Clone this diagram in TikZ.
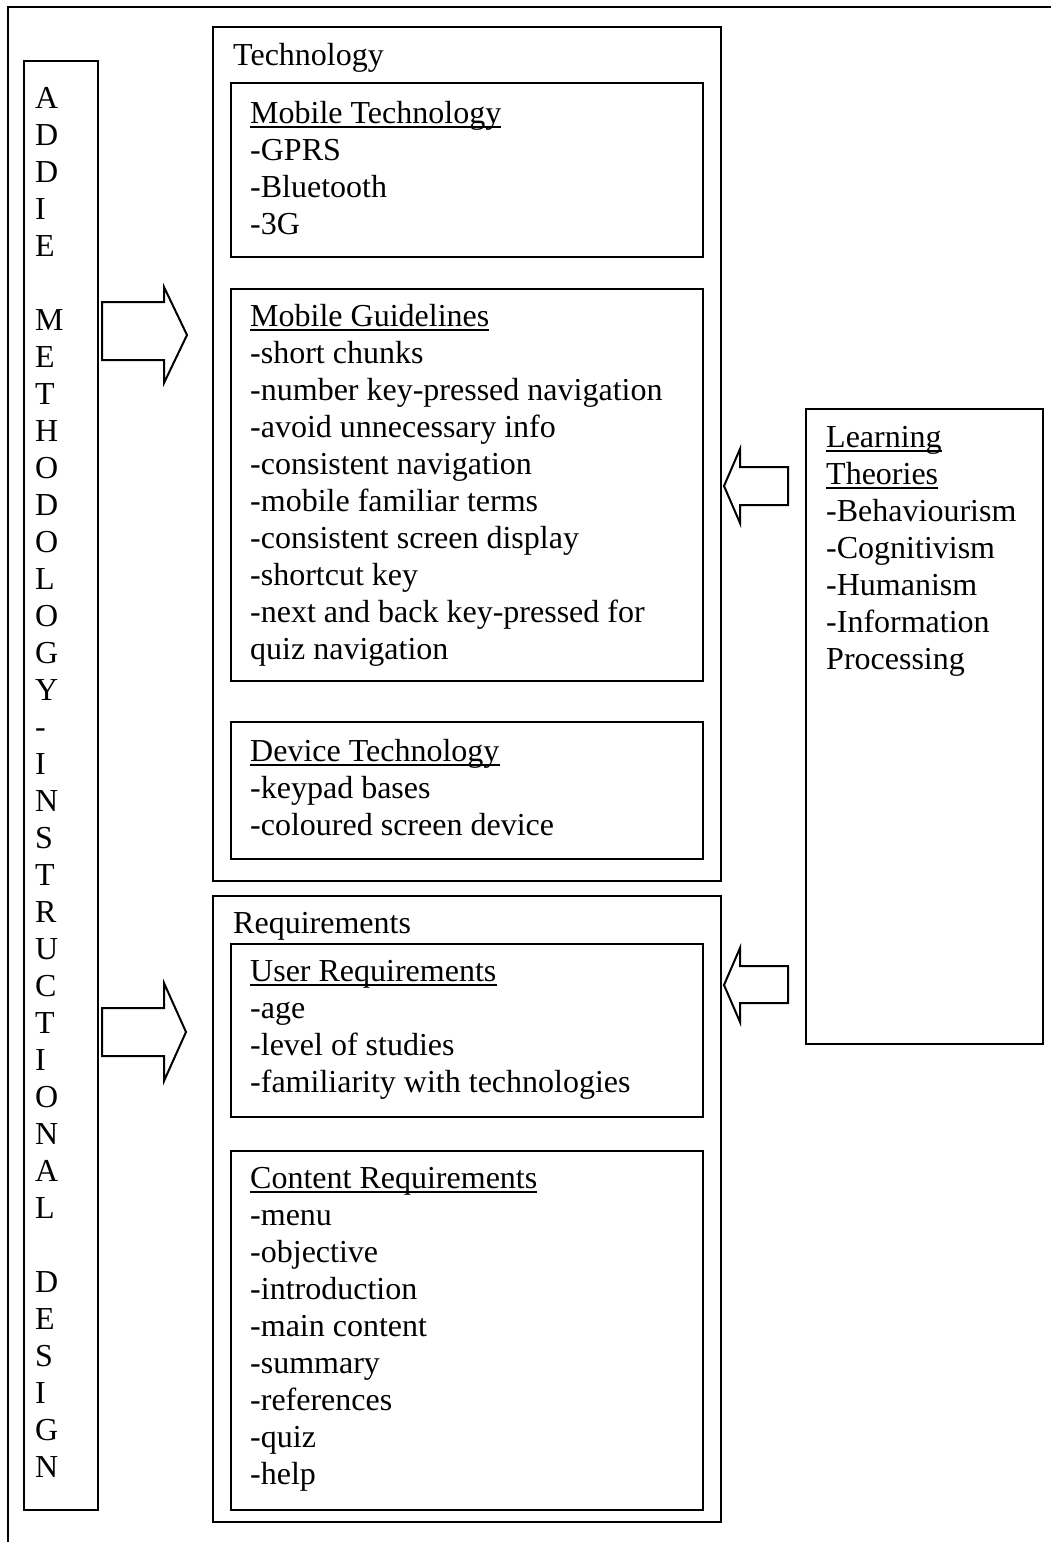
\documentclass[tikz,border=0pt]{standalone}
\usepackage{fontspec}
\setmainfont{Liberation Serif}
\begin{document}
\begin{tikzpicture}[x=1pt,y=-1pt,
  box/.style={draw, line width=2pt, inner sep=0pt, anchor=north west},
  txt/.style={inner sep=0pt, anchor=base west, font=\fontsize{32}{37}\selectfont},
  ul/.style={line width=1.8pt},
  blockarrow/.style={draw, line width=2pt, line join=miter}]
\useasboundingbox (0,0) rectangle (1051,1542);
% outer frame (top and left only)
\draw[line width=2.8pt] (1051,7) -- (8,7) -- (8,1542);
% boxes
\node[box, minimum width=74pt,  minimum height=1449pt] (addie)  at (23,60)   {};
\node[box, minimum width=508pt, minimum height=854pt]  (tech)   at (212,26)  {};
\node[box, minimum width=472pt, minimum height=174pt]  (mtech)  at (230,82)  {};
\node[box, minimum width=472pt, minimum height=392pt]  (mguide) at (230,288) {};
\node[box, minimum width=472pt, minimum height=137pt]  (dtech)  at (230,721) {};
\node[box, minimum width=508pt, minimum height=626pt]  (req)    at (212,895) {};
\node[box, minimum width=472pt, minimum height=173pt]  (ureq)   at (230,943) {};
\node[box, minimum width=472pt, minimum height=359pt]  (creq)   at (230,1150) {};
\node[box, minimum width=237pt, minimum height=635pt]  (learn)  at (805,408) {};
% ADDIE letters
\foreach \l [count=\i from 0] in {A,D,D,I,E,{},M,E,T,H,O,D,O,L,O,G,Y,-,I,N,S,T,R,U,C,T,I,O,N,A,L,{},D,E,S,I,G,N}
  \node[txt] (ad-\i) at (35,{108+37*\i}) {\l};
% section titles
\node[txt] (techtitle) at (233,65) {Technology};
\node[txt] (reqtitle)  at (233,933) {Requirements};
% Mobile Technology
\node[txt] (mth) at (250,123) {Mobile Technology};
\draw[ul] ([yshift=-4pt]mth.base west) -- ([yshift=-4pt]mth.base east);
\foreach \t [count=\i] in {-GPRS,-Bluetooth,-3G}
  \node[txt] (mt-\i) at (250,{123+37*\i}) {\t};
% Mobile Guidelines
\node[txt] (mgh) at (250,326) {Mobile Guidelines};
\draw[ul] ([yshift=-4pt]mgh.base west) -- ([yshift=-4pt]mgh.base east);
\foreach \t [count=\i] in {-short chunks,-number key-pressed navigation,-avoid unnecessary info,-consistent navigation,-mobile familiar terms,-consistent screen display,-shortcut key,-next and back key-pressed for,quiz navigation}
  \node[txt] (mg-\i) at (250,{326+37*\i}) {\t};
% Device Technology
\node[txt] (dth) at (250,761) {Device Technology};
\draw[ul] ([yshift=-4pt]dth.base west) -- ([yshift=-4pt]dth.base east);
\foreach \t [count=\i] in {-keypad bases,-coloured screen device}
  \node[txt] (dt-\i) at (250,{761+37*\i}) {\t};
% User Requirements
\node[txt] (urh) at (250,981) {User Requirements};
\draw[ul] ([yshift=-4pt]urh.base west) -- ([yshift=-4pt]urh.base east);
\foreach \t [count=\i] in {-age,-level of studies,-familiarity with technologies}
  \node[txt] (ur-\i) at (250,{981+37*\i}) {\t};
% Content Requirements
\node[txt] (crh) at (250,1188) {Content Requirements};
\draw[ul] ([yshift=-4pt]crh.base west) -- ([yshift=-4pt]crh.base east);
\foreach \t [count=\i] in {-menu,-objective,-introduction,-main content,-summary,-references,-quiz,-help}
  \node[txt] (cr-\i) at (250,{1188+37*\i}) {\t};
% Learning Theories
\node[txt] (lt1) at (826,447) {Learning};
\node[txt] (lt2) at (826,484) {Theories};
\draw[ul] ([yshift=-4pt]lt1.base west) -- ([yshift=-4pt]lt1.base east);
\draw[ul] ([yshift=-4pt]lt2.base west) -- ([yshift=-4pt]lt2.base east);
\foreach \t [count=\i] in {-Behaviourism,-Cognitivism,-Humanism,-Information,Processing}
  \node[txt] (lt-\i) at (826,{484+37*\i}) {\t};
% block arrows
\draw[blockarrow] (102,302) -- (164,302) -- (164,287) -- (187,335) -- (164,383) -- (164,360) -- (102,360) -- cycle;
\draw[blockarrow] (102,1008) -- (164,1008) -- (164,983) -- (186,1032) -- (164,1081) -- (164,1056) -- (102,1056) -- cycle;
\draw[blockarrow] (788,467) -- (740,467) -- (740,449) -- (724,486) -- (740,523) -- (740,505) -- (788,505) -- cycle;
\draw[blockarrow] (788,966) -- (740,966) -- (740,948) -- (724,985) -- (740,1022) -- (740,1003) -- (788,1003) -- cycle;
\end{tikzpicture}
\end{document}
